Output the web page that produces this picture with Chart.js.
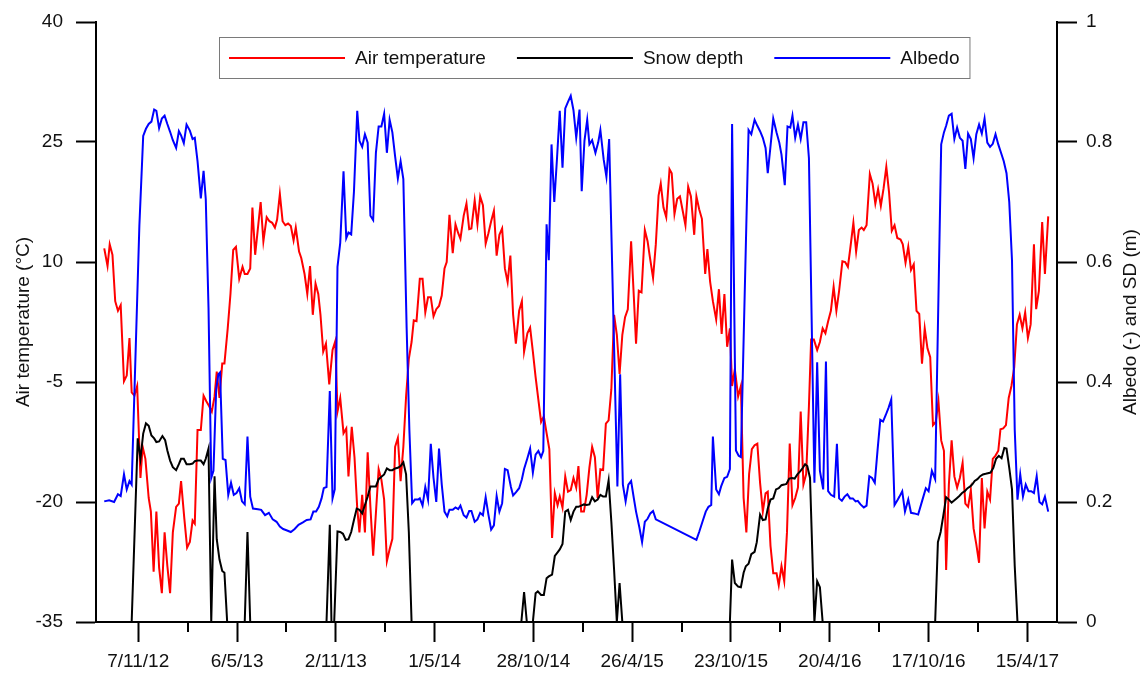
<!DOCTYPE html>
<html>
<head>
<meta charset="utf-8">
<title>Air temperature, snow depth and albedo</title>
<script src="https://cdn.jsdelivr.net/npm/chart.js@4.4.1/dist/chart.umd.min.js"></script>
<style>
html,body{margin:0;padding:0;background:#ffffff;}
canvas{display:block;}
</style>
</head>
<body>
<canvas id="chart" width="1141" height="673"></canvas>
<script>
// ---------------- DATA ----------------
// x values are days counted from the first tick date (7 Nov 2012)
const tickLabels = ['7/11/12','6/5/13','2/11/13','1/5/14','28/10/14','26/4/15','23/10/15','20/4/16','17/10/16','15/4/17'];
const tempTicks  = [-35, -20, -5, 10, 25, 40];
const rightTicks = [0, 0.2, 0.4, 0.6, 0.8, 1];
const xLimits    = [-77, 1674];

const seriesLabels = ['Air temperature', 'Snow depth', 'Albedo'];
const leftTitle  = 'Air temperature (°C)';
const rightTitle = 'Albedo (-) and SD (m)';

const tempDays = [
  -62,-56,-52,-47,-42,-37,-32,-26,-21,-16,-12,-7,-2,4,8,13,19,23,28,33,38,43,48,53,58,63,69,74,78,84,89,94,99,103,108,114,119,124,129,134,139,143,148,153,157,163,168,173,178,184,190,194,199,204,208,213,
  223,228,234,239,244,249,253,258,263,268,273,278,283,287,293,297,303,308,313,318,323,328,332,337,342,348,354,359,363,368,374,379,383,389,394,399,403,408,413,418,423,428,433,438,443,448,453,458,463,468,473,478,483,488,493,498,502,507,
  513,518,523,528,533,538,543,548,553,558,562,567,573,578,583,587,593,598,603,607,613,618,623,628,633,638,643,648,653,658,663,668,673,678,683,688,694,699,703,709,714,719,724,729,734,739,744,749,754,759,764,768,773,778,783,788,793,798,
  802,807,812,817,822,827,832,837,842,847,852,857,862,867,872,877,882,887,892,898,903,907,912,917,923,928,932,938,943,948,952,957,962,968,972,977,982,987,992,997,1002,1007,1013,1017,1022,1027,1033,1037,1042,1047,1053,1058,1063,1068,1073,1078,1082,1087,1093,
  1098,1103,1108,1113,1118,1123,1128,1133,1138,1143,1147,1152,1157,1163,1167,1172,1177,1182,1187,1192,1197,1202,1207,1212,1217,1222,1226,1231,1237,1242,1247,1252,1257,1262,1267,1272,1277,1283,1288,1293,1297,1303,1308,1313,1318,1322,1327,1333,1338,1343,1348,1353,1358,1363,1368,1373,1378,1383,
  1389,1393,1398,1403,1408,1413,1418,1423,1428,1433,1438,1443,1448,1453,1458,1463,1468,1472,1477,1482,1487,1492,1497,1502,1507,1512,1517,1522,1527,1532,1537,1542,1547,1552,1557,1562,1567,1571,1576,1581,1586,1591,1596,1601,1606,1611,1616,1621,1626,1632,1636,1641,1647,1652,1658
];
const airTemperature = [
  11.7,9.5,12.2,10.9,5.1,3.9,4.6,-4.9,-4.2,0.5,-6.3,-6.7,-5.5,-17.0,-13.1,-14.6,-19.5,-21.2,-28.7,-21.2,-28.2,-31.4,-23.8,-28.0,-31.4,-23.8,-20.6,-20.2,-17.4,-22.1,-25.7,-25.0,-22.3,-22.7,-11.0,-11.0,-6.7,-7.4,-8.0,-8.7,-6.8,-3.7,-7.0,-2.7,-2.7,1.7,6.0,11.5,11.9,7.9,9.4,8.5,8.5,9.2,16.8,10.9,
  17.5,12.6,15.6,15.1,14.9,14.3,15.3,18.5,15.1,14.6,14.8,14.5,12.7,14.3,11.3,10.5,8.5,6.0,9.5,3.4,7.3,6.0,3.4,-1.2,-0.2,-5.3,-1.0,0.1,-8.7,-7.0,-11.4,-10.8,-16.8,-10.6,-14.4,-20.8,-23.8,-19.1,-23.8,-13.8,-20.6,-26.7,-21.4,-15.9,-17.2,-19.7,-27.4,-25.9,-24.6,-13.1,-12.0,-17.4,-13.1,-6.8,-2.1,0.0,2.7,2.6,
  7.9,7.9,3.7,5.6,5.6,3.2,4.1,4.5,5.8,9.2,10.0,15.9,11.1,14.7,13.6,12.9,15.8,17.3,14.1,14.2,17.7,14.7,18.2,17.1,12.3,13.6,15.1,16.4,10.8,13.4,14.2,9.2,7.5,10.8,3.4,-0.2,3.9,5.1,-1.2,1.1,1.8,-1.2,-4.4,-7.2,-10.0,-9.3,-11.4,-13.4,-24.5,-18.9,-20.4,-19.3,-20.7,-16.8,-18.7,-18.5,-17.0,-18.2,
  -15.5,-21.2,-21.2,-19.1,-15.7,-13.1,-14.4,-19.5,-15.9,-16.0,-10.2,-9.8,-5.9,3.4,0.9,-4.0,0.9,3.1,4.1,12.6,5.6,-0.2,6.4,6.2,14.0,12.6,10.7,8.0,12.2,18.3,19.8,16.8,15.6,21.6,21.1,16.0,17.9,18.2,16.4,14.6,19.4,18.2,13.4,18.2,16.6,15.4,8.5,11.6,7.5,5.1,2.8,6.6,1.0,6.0,-0.6,1.7,-5.5,-3.4,-6.8,
  -5.5,-19.5,-23.8,-16.5,-13.4,-12.9,-12.7,-17.6,-21.2,-18.9,-18.7,-25.5,-28.9,-28.9,-30.4,-28.0,-29.9,-23.8,-12.7,-20.4,-19.5,-18.2,-8.7,-17.8,-16.5,-8.0,0.3,0.3,-1.0,0.0,1.7,1.1,2.6,3.9,6.9,3.9,6.4,10.1,10.0,9.4,11.5,14.9,11.3,14.0,14.3,14.0,14.6,21.0,19.8,17.3,19.1,17.0,19.2,21.9,18.7,13.9,14.6,13.0,
  12.8,12.2,9.9,11.9,9.0,9.7,3.9,3.5,-2.7,1.7,-0.8,-1.9,-10.4,-10.0,-7.4,-12.3,-13.6,-28.5,-17.8,-12.3,-16.8,-18.2,-17.0,-15.1,-20.2,-20.6,-18.5,-23.3,-25.3,-27.6,-17.0,-23.3,-18.7,-19.7,-14.6,-14.2,-13.6,-10.9,-10.8,-10.4,-7.0,-5.5,-3.2,2.2,3.4,1.7,3.7,0.5,2.2,12.2,4.1,6.4,15.0,8.5,15.7
];

const snowDays = [
  -62,-12,-1,4,9,14,19,24,29,33,38,44,49,53,58,63,69,74,78,83,88,94,99,103,108,114,119,123,128,133,139,143,148,153,157,162,194,199,204,
  343,349,352,357,363,368,373,378,383,388,393,398,403,408,413,418,423,428,433,438,443,448,453,458,463,468,473,478,483,488,493,498,
  698,703,708,719,724,728,734,739,744,748,754,759,764,768,773,778,783,788,793,798,802,807,812,817,822,827,832,837,842,847,852,857,862,867,872,877,882,
  1078,1082,1087,1093,1098,1103,1107,1112,1117,1123,1127,1133,1138,1143,1147,1152,1157,1162,1167,1172,1177,1181,1186,1191,1196,1201,1206,1211,1215,1219,1224,1232,1237,1242,1247,
  1452,1457,1462,1467,1472,1477,1482,1486,1491,1496,1501,1506,1511,1516,1520,1524,1529,1534,1539,1544,1548,1553,1558,1563,1568,1573,1578,1582,1587,1592,1597,1602,1658
];
const snowDepth = [
  0,0,0.306,0.272,0.314,0.331,0.327,0.311,0.306,0.300,0.301,0.310,0.303,0.286,0.269,0.258,0.253,0.263,0.272,0.272,0.263,0.263,0.264,0.268,0.269,0.269,0.263,0.272,0.289,0,0.243,0.138,0.104,0.085,0.082,0,0,0.150,0,
  0,0.162,0,0,0.151,0.150,0.147,0.137,0.138,0.150,0.170,0.189,0.187,0.181,0.195,0.209,0.226,0.226,0.226,0.238,0.242,0.246,0.256,0.253,0.253,0.256,0.257,0.260,0.266,0.246,0.150,0,
  0,0.05,0,0,0.048,0.051,0.045,0.045,0.073,0.076,0.079,0.110,0.116,0.121,0.130,0.184,0.187,0.170,0.184,0.192,0.192,0.194,0.196,0.195,0.196,0.208,0.201,0.204,0.212,0.209,0.209,0.236,0.167,0.087,0,0.065,0,
  0,0.104,0.065,0.059,0.058,0.082,0.093,0.097,0.113,0.117,0.133,0.179,0.170,0.171,0.189,0.204,0.206,0.221,0.223,0.228,0.229,0.230,0.239,0.240,0.239,0.246,0.251,0.257,0.263,0.260,0.240,0,0.068,0.058,0,
  0,0.133,0.150,0.178,0.208,0.204,0.199,0.202,0.206,0.210,0.215,0.218,0.223,0.226,0.230,0.235,0.238,0.243,0.246,0.247,0.248,0.249,0.257,0.272,0.277,0.273,0.290,0.289,0.257,0.221,0.093,0,0
];

const albedoDays = [
  -62,-53,-44,-37,-32,-26,-21,-16,-12,2,9,14,19,24,29,33,38,43,48,53,58,63,69,74,78,83,88,94,99,103,108,114,119,123,128,133,137,142,146,149,154,159,164,169,174,179,184,189,194,199,204,209,218,
  224,231,238,245,252,258,264,270,278,285,292,300,307,314,319,324,329,334,338,343,349,354,358,363,368,374,379,383,388,393,399,403,408,413,418,423,428,433,438,443,448,453,458,463,468,473,478,483,489,494,499,504,510,
  513,518,523,528,533,538,543,548,553,558,563,567,573,578,583,587,593,598,603,607,613,618,623,628,633,638,643,648,653,658,663,668,673,679,683,688,694,699,703,709,714,719,724,729,734,738,744,748,753,758,763,768,773,778,783,788,793,798,
  804,808,813,818,822,827,833,838,842,848,853,858,873,878,883,888,893,898,903,907,913,918,923,928,933,938,943,1017,1022,1028,1034,1039,1044,1047,1053,1058,1062,1068,1073,1078,1082,1089,1094,1098,1112,
  1117,1123,1128,1133,1138,1143,1147,1152,1157,1163,1168,1172,1178,1183,1188,1192,1197,1202,1207,1212,1217,1222,1232,1237,1242,1248,1253,1257,1262,1268,1273,1277,1282,1287,1292,1297,1302,1307,1311,1316,1322,1327,1332,1337,1342,1347,1352,1357,1362,1367,1372,1378,1384,
  1387,1392,1397,1403,1408,1414,1421,1428,1435,1440,1446,1452,1463,1468,1472,1477,1482,1487,1492,1497,1502,1507,1512,1517,1522,1527,1532,1537,1542,1547,1552,1557,1562,1567,1572,1577,1582,1587,1592,1597,1602,1607,1612,1617,1622,1627,1632,1637,1642,1647,1652,1658
];
const albedo = [
  0.201,0.203,0.200,0.213,0.210,0.246,0.221,0.235,0.229,0.660,0.810,0.822,0.830,0.834,0.854,0.852,0.823,0.839,0.844,0.830,0.817,0.803,0.790,0.818,0.811,0.798,0.829,0.819,0.805,0.807,0.768,0.706,0.752,0.705,0.524,0.240,0.252,0.388,0.413,0.416,0.272,0.270,0.212,0.232,0.212,0.215,0.223,0.201,0.196,0.309,0.209,0.189,0.188,
  0.187,0.178,0.182,0.171,0.167,0.159,0.155,0.153,0.150,0.155,0.162,0.166,0.170,0.171,0.184,0.184,0.192,0.206,0.223,0.225,0.385,0.206,0.221,0.592,0.632,0.751,0.640,0.649,0.646,0.717,0.852,0.802,0.792,0.813,0.799,0.677,0.670,0.782,0.826,0.826,0.847,0.782,0.837,0.816,0.776,0.739,0.768,0.738,0.490,0.320,0.198,0.204,0.204,
  0.206,0.194,0.225,0.204,0.297,0.240,0.200,0.289,0.229,0.184,0.176,0.187,0.187,0.191,0.188,0.194,0.178,0.174,0.185,0.185,0.167,0.171,0.182,0.178,0.208,0.179,0.154,0.161,0.210,0.184,0.198,0.255,0.253,0.225,0.211,0.216,0.223,0.238,0.255,0.273,0.289,0.249,0.279,0.285,0.275,0.285,0.663,0.603,0.796,0.700,0.773,0.852,0.757,0.856,0.867,0.877,0.853,0.807,
  0.854,0.718,0.802,0.837,0.796,0.803,0.782,0.799,0.820,0.771,0.742,0.805,0.226,0.413,0.229,0.201,0.229,0.235,0.206,0.184,0.158,0.133,0.167,0.172,0.181,0.185,0.171,0.137,0.150,0.167,0.184,0.192,0.195,0.309,0.221,0.213,0.226,0.240,0.242,0.255,0.830,0.286,0.277,0.275,0.820,
  0.813,0.837,0.827,0.818,0.807,0.790,0.748,0.793,0.839,0.816,0.799,0.779,0.728,0.826,0.824,0.844,0.807,0.829,0.805,0.833,0.833,0.773,0.232,0.433,0.252,0.221,0.434,0.218,0.212,0.209,0.297,0.206,0.202,0.209,0.213,0.206,0.206,0.201,0.202,0.196,0.191,0.194,0.243,0.240,0.232,0.286,0.337,0.334,0.345,0.357,0.371,0.195,0.204,
  0.209,0.218,0.184,0.204,0.182,0.181,0.179,0.201,0.223,0.218,0.252,0.238,0.796,0.816,0.827,0.844,0.847,0.805,0.824,0.807,0.802,0.755,0.814,0.805,0.773,0.813,0.829,0.814,0.839,0.799,0.792,0.797,0.813,0.796,0.782,0.768,0.748,0.700,0.603,0.320,0.204,0.246,0.209,0.229,0.218,0.218,0.215,0.243,0.200,0.196,0.209,0.184
];

// ---------------- HELPERS ----------------
function parseDMY(s) { const [d, m, y] = s.split('/').map(Number); return Date.UTC(2000 + y, m - 1, d); }
const day0 = parseDMY(tickLabels[0]);
const tickDays = tickLabels.map(s => Math.round((parseDMY(s) - day0) / 86400000));
const minorDays = tickDays.slice(0, -1).map((d, i) => (d + tickDays[i + 1]) / 2);
const toPoints = (xs, ys) => xs.map((x, i) => ({ x: x, y: ys[i] }));

const FONT = "'Liberation Sans', Arial, Helvetica, sans-serif";
const TEXT = '#111111';
Chart.defaults.font.family = FONT;
Chart.defaults.font.size = 19;
Chart.defaults.color = TEXT;

const legendLayout = { left: 219, top: 37, height: 41, pad: 10, lineLen: 116, textGap: 10, itemGap: 31 };

const decor = {
  id: 'decor',
  beforeDraw(chart) {
    const c = chart.ctx;
    c.save(); c.fillStyle = '#ffffff'; c.fillRect(0, 0, chart.width, chart.height); c.restore();
  },
  afterDraw(chart) {
    const c = chart.ctx, area = chart.chartArea, xs = chart.scales.x;
    c.save();
    // minor ticks on x axis
    c.strokeStyle = '#000'; c.lineWidth = 2;
    minorDays.forEach(d => {
      const px = Math.round(xs.getPixelForValue(d));
      c.beginPath(); c.moveTo(px, area.bottom); c.lineTo(px, area.bottom + 10); c.stroke();
    });
    // axis titles (both read bottom-to-top)
    c.font = '19px ' + FONT; c.fillStyle = TEXT; c.textAlign = 'center'; c.textBaseline = 'alphabetic';
    const cy = (area.top + area.bottom) / 2;
    c.save(); c.translate(29, cy); c.rotate(-Math.PI / 2); c.fillText(leftTitle, 0, 0); c.restore();
    c.save(); c.translate(1136, cy); c.rotate(-Math.PI / 2); c.fillText(rightTitle, 0, 0); c.restore();
    // legend
    const L = legendLayout;
    const items = chart.data.datasets.map(ds => ({ label: ds.label, color: ds.borderColor, w: c.measureText(ds.label).width }));
    const width = L.pad * 2 + items.reduce((s, it) => s + L.lineLen + L.textGap + it.w, 0) + L.itemGap * (items.length - 1);
    c.fillStyle = '#fff'; c.fillRect(L.left, L.top, width, L.height);
    c.strokeStyle = '#7a7a7a'; c.lineWidth = 1; c.strokeRect(L.left + 0.5, L.top + 0.5, width, L.height);
    let x = L.left + L.pad; const ly = Math.round(L.top + L.height / 2);
    items.forEach(it => {
      c.strokeStyle = it.color; c.lineWidth = 2;
      c.beginPath(); c.moveTo(x, ly); c.lineTo(x + L.lineLen, ly); c.stroke();
      x += L.lineLen + L.textGap;
      c.fillStyle = TEXT; c.textAlign = 'left'; c.textBaseline = 'middle';
      c.fillText(it.label, x, ly + 1);
      x += it.w + L.itemGap;
    });
    c.restore();
  }
};

const axisCommon = {
  grid: { drawOnChartArea: false, drawTicks: true, tickLength: 20, tickWidth: 2, tickColor: '#000' },
  border: { display: true, color: '#000', width: 2 }
};

new Chart(document.getElementById('chart'), {
  type: 'line',
  data: {
    datasets: [
      { label: seriesLabels[0], data: toPoints(tempDays, airTemperature), borderColor: '#ff0000', yAxisID: 'y', order: 3 },
      { label: seriesLabels[1], data: toPoints(snowDays, snowDepth), borderColor: '#000000', yAxisID: 'y1', order: 2 },
      { label: seriesLabels[2], data: toPoints(albedoDays, albedo), borderColor: '#0000ff', yAxisID: 'y1', order: 1 }
    ]
  },
  options: {
    responsive: false,
    animation: false,
    events: [],
    elements: { point: { radius: 0 }, line: { borderWidth: 2, tension: 0, fill: false } },
    layout: { padding: { top: 22, left: 0, right: 0, bottom: 0 } },
    plugins: { legend: { display: false }, tooltip: { enabled: false } },
    scales: {
      x: Object.assign({}, axisCommon, {
        type: 'linear', position: 'bottom', min: xLimits[0], max: xLimits[1],
        afterBuildTicks: s => { s.ticks = tickDays.map(v => ({ value: v })); },
        ticks: { callback: (v, i) => tickLabels[i], padding: 8, maxRotation: 0, autoSkip: false, font: { size: 19 } },
        afterFit: s => { s.height = 51; s.paddingLeft = 0; s.paddingRight = 0; }
      }),
      y: Object.assign({}, axisCommon, {
        type: 'linear', position: 'left', min: tempTicks[0], max: tempTicks[tempTicks.length - 1],
        afterBuildTicks: s => { s.ticks = tempTicks.map(v => ({ value: v })); },
        ticks: { callback: v => String(v), padding: 13, font: { size: 19 } },
        afterFit: s => { s.width = 96; s.paddingTop = 0; s.paddingBottom = 0; }
      }),
      y1: Object.assign({}, axisCommon, {
        type: 'linear', position: 'right', min: rightTicks[0], max: rightTicks[rightTicks.length - 1],
        afterBuildTicks: s => { s.ticks = rightTicks.map(v => ({ value: v })); },
        ticks: { callback: v => String(+v.toFixed(1)), padding: 9, font: { size: 19 } },
        afterFit: s => { s.width = 84; s.paddingTop = 0; s.paddingBottom = 0; }
      })
    }
  },
  plugins: [decor]
});
</script>
</body>
</html>
